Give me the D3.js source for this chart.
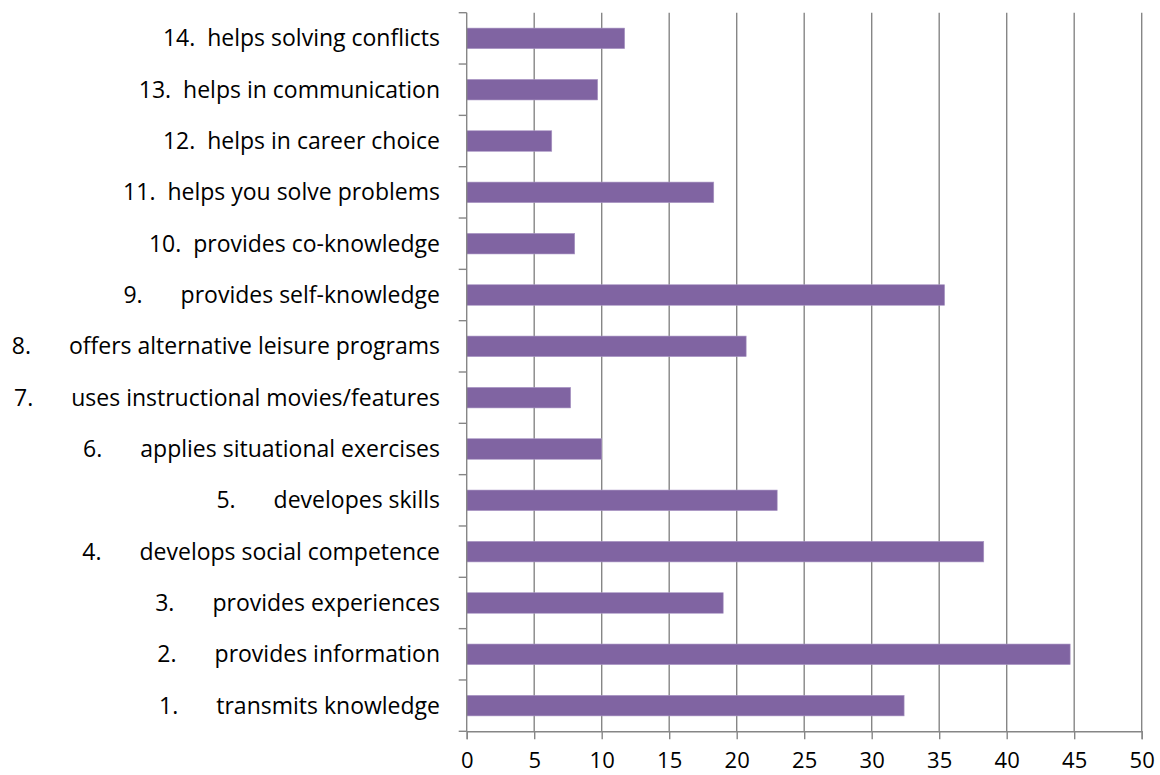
<!DOCTYPE html>
<html>
<head>
<meta charset="utf-8">
<script src="https://cdn.jsdelivr.net/npm/d3@7"></script>
<style>
  html, body { margin: 0; padding: 0; background: #fff; }
  svg { display: block; }
  text { font-family: "Open Sans", "Liberation Sans", sans-serif; fill: #000; }
</style>
</head>
<body>
<svg id="chart" width="1160" height="775"></svg>
<script>
// Data (bottom to top)
const itemNumbers = ["1.", "2.", "3.", "4.", "5.", "6.", "7.", "8.", "9.", "10.", "11.", "12.", "13.", "14."];
const itemTexts = [
  "transmits knowledge",
  "provides information",
  "provides experiences",
  "develops social competence",
  "developes skills",
  "applies situational exercises",
  "uses instructional movies/features",
  "offers alternative leisure programs",
  "provides self-knowledge",
  "provides co-knowledge",
  "helps you solve problems",
  "helps in career choice",
  "helps in communication",
  "helps solving conflicts"
];
const values = [32.4, 44.7, 19.0, 38.3, 23.0, 10.0, 7.7, 20.7, 35.4, 8.0, 18.3, 6.3, 9.7, 11.7];
const xTicks = [0, 5, 10, 15, 20, 25, 30, 35, 40, 45, 50];

(function () {
const svg = d3.select("#chart");
const plotLeft = 466.7, plotRight = 1141.7, plotTop = 12.7, plotBottom = 731.3;
const gridColor = "#868686";
const barColor = "#8064A2";
const labelSize = 23;

const x = d3.scaleLinear().domain([0, 50]).range([plotLeft, plotRight]);
const idx = d3.range(values.length);
const y = d3.scaleBand().domain(idx.slice().reverse()).range([plotTop, plotBottom])
  .paddingInner(0.6).paddingOuter(0.3);
const yEdge = d3.scaleLinear().domain([0, values.length]).range([plotBottom, plotTop]);

// vertical gridlines
svg.append("g").selectAll("line").data(xTicks.filter(d => d > 0)).join("line")
  .attr("x1", d => x(d)).attr("x2", d => x(d))
  .attr("y1", plotTop).attr("y2", plotBottom)
  .attr("stroke", gridColor).attr("stroke-width", 1.4);

// bars
svg.append("g").selectAll("rect").data(idx).join("rect")
  .attr("x", x(0))
  .attr("y", i => y(i))
  .attr("width", i => x(values[i]) - x(0))
  .attr("height", y.bandwidth())
  .attr("fill", barColor)
  .attr("stroke", "#a996c4").attr("stroke-width", 0.6);

// y axis line and ticks
const ay = svg.append("g");
ay.append("line").attr("x1", plotLeft).attr("x2", plotLeft).attr("y1", plotTop).attr("y2", plotBottom)
  .attr("stroke", gridColor).attr("stroke-width", 1.4);
ay.selectAll("line.t").data(d3.range(values.length + 1)).join("line").attr("class", "t")
  .attr("x1", plotLeft - 8).attr("x2", plotLeft)
  .attr("y1", d => yEdge(d)).attr("y2", d => yEdge(d))
  .attr("stroke", gridColor).attr("stroke-width", 1.4);

// x axis
const xAxis = d3.axisBottom(x).tickValues(xTicks).tickSize(8).tickPadding(13).tickFormat(d3.format("d"));
const gx = svg.append("g").attr("transform", `translate(0,${plotBottom})`).call(xAxis);
gx.select(".domain").attr("stroke", gridColor).attr("stroke-width", 1.4);
gx.selectAll(".tick line").attr("stroke", gridColor).attr("stroke-width", 1.4);
gx.selectAll(".tick text").attr("font-size", 22).attr("fill", "#000")
  .attr("font-family", "'Open Sans', sans-serif");

// category labels
const labelRight = 440;
const gap = 38;
const lg = svg.append("g");
idx.forEach(i => {
  const cy = y(i) + y.bandwidth() / 2;
  const n = parseInt(itemNumbers[i]);
  if (n >= 10) {
    lg.append("text")
      .attr("x", labelRight).attr("y", cy).attr("dy", "0.35em")
      .attr("text-anchor", "end").attr("font-size", labelSize)
      .style("white-space", "pre")
      .text(itemNumbers[i] + "  " + itemTexts[i]);
  } else {
    const t = lg.append("text")
      .attr("x", labelRight).attr("y", cy).attr("dy", "0.35em")
      .attr("text-anchor", "end").attr("font-size", labelSize)
      .text(itemTexts[i]);
    const w = t.node().getComputedTextLength();
    lg.append("text")
      .attr("x", labelRight - w - gap).attr("y", cy).attr("dy", "0.35em")
      .attr("text-anchor", "end").attr("font-size", labelSize)
      .text(itemNumbers[i]);
  }
});
})();
</script>
</body>
</html>
